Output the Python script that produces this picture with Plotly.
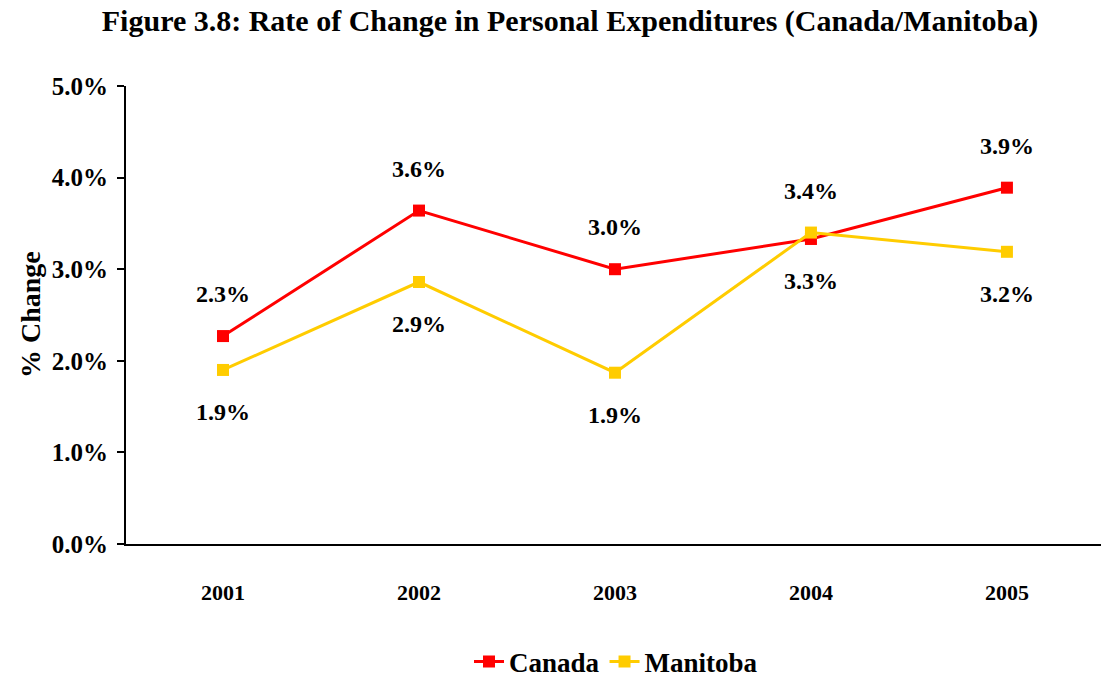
import plotly.graph_objects as go

years = ["2001", "2002", "2003", "2004", "2005"]
canada = [2.27, 3.64, 3.00, 3.33, 3.89]
manitoba = [1.90, 2.86, 1.87, 3.40, 3.19]
# label placement per point: +1 above the marker, -1 below
canada_side = [1, 1, 1, -1, 1]
manitoba_side = [-1, -1, -1, 1, -1]
y_ticks = [0, 1, 2, 3, 4, 5]

FONT = "Liberation Serif"
RED = "#FF0000"
GOLD = "#FFCC00"

fig = go.Figure()
xs = list(range(len(years)))
for name, vals, color in [("Canada", canada, RED), ("Manitoba", manitoba, GOLD)]:
    fig.add_trace(go.Scatter(
        x=xs, y=vals, name=f"<b>{name}</b>", mode="lines+markers",
        line=dict(color=color, width=3),
        marker=dict(symbol="square", size=12, color=color),
        cliponaxis=False,
    ))

annotations = []
for vals, sides in [(canada, canada_side), (manitoba, manitoba_side)]:
    for x, v, s in zip(xs, vals, sides):
        annotations.append(dict(
            x=x, y=v, xref="x", yref="y", text=f"<b>{v:.1f}%</b>", showarrow=False,
            yshift=42 * s, font=dict(family=FONT, size=24, color="black"),
        ))

annotations.append(dict(
    x=(30 - 126) / 975, y=0.5, xref="paper", yref="paper", text="<b>% Change</b>",
    xanchor="center", yanchor="middle",
    textangle=-90, showarrow=False, font=dict(family=FONT, size=28, color="black"),
))

fig.update_layout(
    width=1101, height=677,
    margin=dict(l=126, r=0, t=86, b=133, autoexpand=False),
    paper_bgcolor="white", plot_bgcolor="white",
    title=dict(
        text="<b>Figure 3.8: Rate of Change in Personal Expenditures (Canada/Manitoba)</b>",
        x=570 / 1101, xanchor="center", xref="container",
        y=1 - 20 / 677, yanchor="middle", yref="container",
        font=dict(family=FONT, size=30, color="black"),
    ),
    font=dict(family=FONT, color="black"),
    showlegend=True,
    legend=dict(
        orientation="h", x=(616 - 126) / 975, xanchor="center",
        y=(544 - 662) / 458, yanchor="middle",
        font=dict(family=FONT, size=27, color="black"),
        tracegroupgap=0,
    ),
    annotations=annotations,
)

fig.update_xaxes(
    tickmode="array", tickvals=xs, ticktext=[f"<b>{y}</b>" for y in years],
    range=[-0.495, 4.48], showgrid=False, zeroline=False,
    showline=True, linecolor="black", linewidth=2, ticks="",
    ticklabelstandoff=28, automargin=False,
    tickfont=dict(family=FONT, size=22, color="black"),
)
fig.update_yaxes(
    range=[0, 5], tickmode="array", tickvals=y_ticks,
    ticktext=[f"<b>{t:.1f}%</b>" for t in y_ticks],
    showgrid=False, zeroline=False,
    showline=True, linecolor="black", linewidth=2,
    ticks="outside", ticklen=7, tickwidth=2, tickcolor="black",
    ticklabelstandoff=4, automargin=False,
    tickfont=dict(family=FONT, size=25, color="black"),
)

fig.write_html("out.html")
